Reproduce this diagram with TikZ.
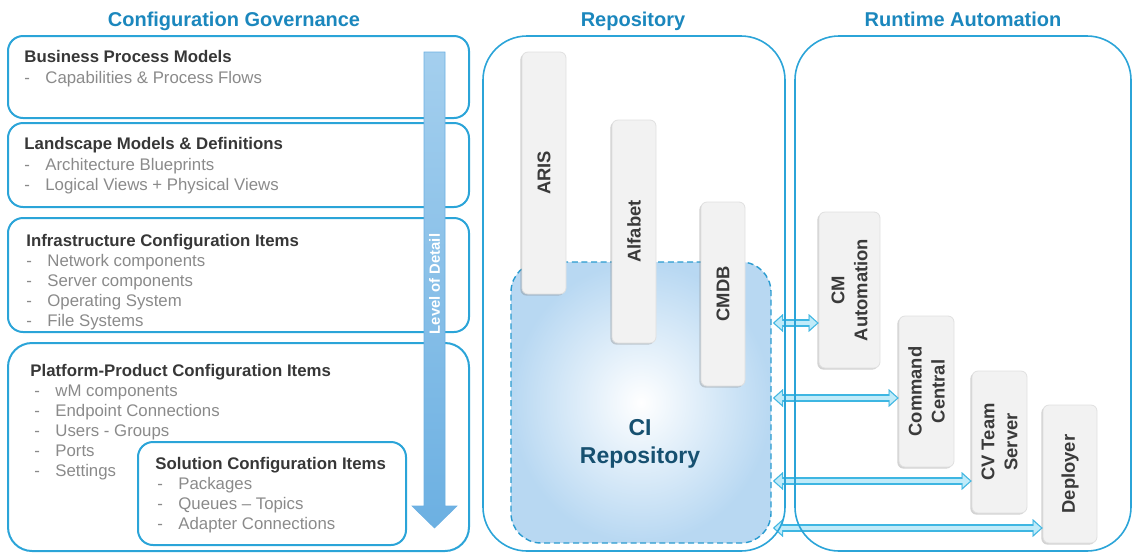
\documentclass[tikz,border=0pt]{standalone}
\usepackage{fontspec}
\setmainfont{Liberation Sans}
\usepackage{tikz}
\usetikzlibrary{
    arrows.meta,
    calc,
    shadows
}

\definecolor{govblue}{RGB}{27,135,189}
\definecolor{frameblue}{RGB}{43,164,216}
\definecolor{headgray}{RGB}{55,55,55}
\definecolor{itemgray}{RGB}{138,138,138}
\definecolor{toolgray}{RGB}{242,242,242}
\definecolor{tooltext}{RGB}{58,58,58}
\definecolor{cifill}{RGB}{184,216,242}
\definecolor{ciedge}{RGB}{42,155,208}
\definecolor{citext}{RGB}{22,80,112}
\definecolor{lodtop}{RGB}{164,207,238}
\definecolor{lodbot}{RGB}{108,176,226}
\definecolor{linkfill}{RGB}{192,235,249}
\definecolor{linkedge}{RGB}{62,182,226}

\newcommand{\cidash}[1]{\makebox[10.5pt][l]{-}#1}

\begin{document}
\begin{tikzpicture}[x=0.5pt, y=-0.5pt,
    headtitle/.style={anchor=base, font=\fontsize{10}{12}\selectfont\bfseries, text=govblue},
    govframe/.style={draw=frameblue, line width=1pt, rounded corners=7.5pt},
    repoframe/.style={draw=frameblue, line width=0.8pt, rounded corners=22pt},
    govtext/.style={anchor=north west, inner sep=0pt, align=left, text=itemgray,
        font=\fontsize{8.4}{10}\selectfont},
    toolbox/.style={rotate=90, fill=toolgray, draw=black!12, rounded corners=3pt,
        inner sep=0pt, align=center, text=tooltext,
        font=\fontsize{9.2}{11.5}\selectfont\bfseries,
        drop shadow={shadow xshift=-0.8pt, shadow yshift=-0.8pt, opacity=0.35}},
    cirepo/.style={draw=ciedge, line width=0.7pt, dash pattern=on 3pt off 1.8pt,
        rounded corners=15pt, inner color=white, outer color=cifill},
    lodtext/.style={rotate=90, text=white, font=\fontsize{7.4}{9}\selectfont\bfseries},
    linkout/.style={draw=linkedge, line width=3.8pt,
        arrows={Triangle[length=5pt,width=9pt,line width=0.01pt]-Triangle[length=5pt,width=9pt,line width=0.01pt]}},
    linkin/.style={draw=linkfill, line width=2.4pt, shorten <=0.9pt, shorten >=0.9pt,
        arrows={Triangle[length=3.6pt,width=6.4pt,line width=0.01pt]-Triangle[length=3.6pt,width=6.4pt,line width=0.01pt]}}]
    \useasboundingbox (0,0) rectangle (1132,553);

    \node (govtitle) [headtitle] at (234,26) {Configuration Governance};
    \node (repotitle) [headtitle] at (633,26) {Repository};
    \node (runtitle) [headtitle] at (963,26) {Runtime Automation};

    \draw[govframe] (8,36) rectangle (469,118);
    \draw[govframe] (8,123) rectangle (469,207);
    \draw[govframe] (8,218) rectangle (469,332);
    \draw[govframe, rounded corners=12pt] (8,343) rectangle (469,551);
    \draw[govframe] (138,442) rectangle (406,545);

    \node (bpm) [govtext] at (24,50) {\textcolor{headgray}{\bfseries Business Process Models}\\[0.5pt]
        \cidash{Capabilities \& Process Flows}};
    \node (lsm) [govtext] at (24,137) {\textcolor{headgray}{\bfseries Landscape Models \& Definitions}\\[0.5pt]
        \cidash{Architecture Blueprints}\\ \cidash{Logical Views + Physical Views}};
    \node (infra) [govtext] at (26,234) {\textcolor{headgray}{\bfseries Infrastructure Configuration Items}\\
        \cidash{Network components}\\ \cidash{Server components}\\
        \cidash{Operating System}\\ \cidash{File Systems}};
    \node (plat) [govtext] at (30,364) {\textcolor{headgray}{\bfseries Platform-Product Configuration Items}\\
        \hspace{2pt}\cidash{wM components}\\ \hspace{2pt}\cidash{Endpoint Connections}\\
        \hspace{2pt}\cidash{Users - Groups}\\ \hspace{2pt}\cidash{Ports}\\ \hspace{2pt}\cidash{Settings}};
    \node (sol) [govtext] at (155,457) {\textcolor{headgray}{\bfseries Solution Configuration Items}\\
        \hspace{1pt}\cidash{Packages}\\ \hspace{1pt}\cidash{Queues -- Topics}\\
        \hspace{1pt}\cidash{Adapter Connections}};

    \shade[top color=lodtop, bottom color=lodbot, draw=lodbot, line width=0.3pt]
        (424,52) -- (445,52) -- (445,506) -- (457,506) -- (434.5,528)
        -- (412,506) -- (424,506) -- cycle;
    \node (lod) [lodtext] at (434.5,284) {Level of Detail};

    \node (ci) [cirepo, minimum width=130pt, minimum height=140.5pt] at (641,402.5) {};
    \node (citext) [text=citext, align=center, font=\fontsize{11.5}{14}\selectfont\bfseries]
        at (640,444) {CI\\Repository};

    \node (aris) [toolbox, minimum width=121pt, minimum height=22pt] at (544,173) {ARIS};
    \node (alfa) [toolbox, minimum width=111.5pt, minimum height=22pt] at (634,231.5) {Alfabet};
    \node (cmdb) [toolbox, minimum width=92pt, minimum height=22pt] at (723,294) {CMDB};
    \node (cma) [toolbox, minimum width=78pt, minimum height=30.5pt] at (849.5,290) {CM\\Automation};
    \node (cmc) [toolbox, minimum width=75.5pt, minimum height=27.5pt] at (926.5,391.5) {Command\\Central};
    \node (cvt) [toolbox, minimum width=71pt, minimum height=27.5pt] at (999.5,442) {CV Team\\Server};
    \node (dep) [toolbox, minimum width=69pt, minimum height=27pt] at (1070,474) {Deployer};

    \foreach \tgt/\yy in {cma/323, cmc/398, cvt/481, dep/528} {
        \coordinate (s\tgt) at (773,\yy);
        \draw[linkout] (s\tgt) to (s\tgt -| \tgt.north);
        \draw[linkin] (s\tgt) to (s\tgt -| \tgt.north);
    }

    \draw[repoframe] (483,36) rectangle (785,551);
    \draw[repoframe] (795,36) rectangle (1131,551);
\end{tikzpicture}
\end{document}
